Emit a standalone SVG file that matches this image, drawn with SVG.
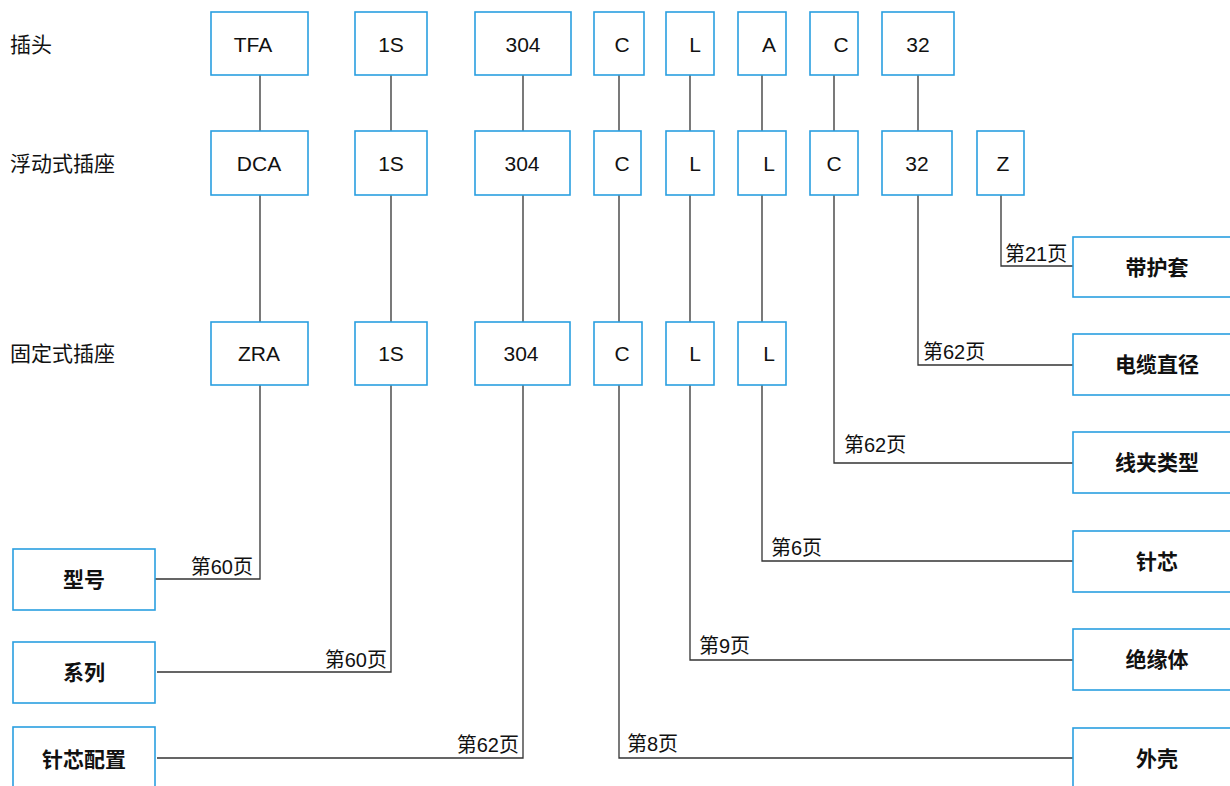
<svg xmlns="http://www.w3.org/2000/svg" width="1230" height="786" viewBox="0 0 1230 786">
<style>
text{font-family:"Liberation Sans","Noto Sans CJK SC",sans-serif;fill:#111}
.box{fill:#fff;stroke:#2a9fe0;stroke-width:1.6}
.code{font-size:21px;text-anchor:middle}
.row{font-size:21px}
.pg{font-size:20px}
.end{text-anchor:end}
.name{font-size:21px;font-weight:bold;text-anchor:middle}
.conn{fill:none;stroke:#333;stroke-width:1.3}
</style>
<rect width="1230" height="786" fill="#fff"/>
<g id="row-labels">
<text class="row" x="10" y="52">插头</text>
<text class="row" x="10" y="171">浮动式插座</text>
<text class="row" x="10" y="361">固定式插座</text>
</g>
<g id="connectors">
<path class="conn" d="M260 75V131M391 75V131M523 75V131M619 75V131M690 75V131M762 75V131M834 75V131M918 75V131"/>
<path class="conn" d="M260 195V322M391 195V322M523 195V322M619 195V322M690 195V322M762 195V322"/>
<path class="conn" d="M1001 195V266H1073"/>
<path class="conn" d="M918 195V365H1073"/>
<path class="conn" d="M834 195V463H1073"/>
<path class="conn" d="M762 385V561H1073"/>
<path class="conn" d="M690 385V660H1073"/>
<path class="conn" d="M619 385V758H1073"/>
<path class="conn" d="M260 385V579H155"/>
<path class="conn" d="M391 385V672H157"/>
<path class="conn" d="M523 385V758H157"/>
<text class="pg" x="1005" y="261">第21页</text>
<text class="pg" x="923" y="359">第62页</text>
<text class="pg" x="844" y="452">第62页</text>
<text class="pg" x="771" y="555">第6页</text>
<text class="pg" x="699" y="653">第9页</text>
<text class="pg" x="627" y="751">第8页</text>
<text class="pg end" x="253" y="574">第60页</text>
<text class="pg end" x="387" y="667">第60页</text>
<text class="pg end" x="519" y="752">第62页</text>
</g>
<g id="r1-tfa"><rect class="box" x="211" y="12" width="97" height="63"/><text class="code" x="253" y="52">TFA</text></g>
<g id="r1-1s"><rect class="box" x="355" y="12" width="72" height="63"/><text class="code" x="391" y="52">1S</text></g>
<g id="r1-304"><rect class="box" x="475" y="12" width="96" height="63"/><text class="code" x="523" y="52">304</text></g>
<g id="r1-c"><rect class="box" x="594" y="12" width="50" height="63"/><text class="code" x="622" y="52">C</text></g>
<g id="r1-l"><rect class="box" x="666" y="12" width="48" height="63"/><text class="code" x="695" y="52">L</text></g>
<g id="r1-a"><rect class="box" x="738" y="12" width="48" height="63"/><text class="code" x="769" y="52">A</text></g>
<g id="r1-c2"><rect class="box" x="810" y="12" width="48" height="63"/><text class="code" x="841" y="52">C</text></g>
<g id="r1-32"><rect class="box" x="882" y="12" width="72" height="63"/><text class="code" x="918" y="52">32</text></g>

<g id="r2-dca"><rect class="box" x="211" y="131" width="97" height="64"/><text class="code" x="259" y="171">DCA</text></g>
<g id="r2-1s"><rect class="box" x="355" y="131" width="72" height="64"/><text class="code" x="391" y="171">1S</text></g>
<g id="r2-304"><rect class="box" x="475" y="131" width="95" height="64"/><text class="code" x="522" y="171">304</text></g>
<g id="r2-c"><rect class="box" x="594" y="131" width="47" height="64"/><text class="code" x="622" y="171">C</text></g>
<g id="r2-l"><rect class="box" x="666" y="131" width="48" height="64"/><text class="code" x="695" y="171">L</text></g>
<g id="r2-l2"><rect class="box" x="738" y="131" width="48" height="64"/><text class="code" x="769" y="171">L</text></g>
<g id="r2-c2"><rect class="box" x="810" y="131" width="48" height="64"/><text class="code" x="834" y="171">C</text></g>
<g id="r2-32"><rect class="box" x="882" y="131" width="70" height="64"/><text class="code" x="917" y="171">32</text></g>
<g id="r2-z"><rect class="box" x="977" y="131" width="47" height="64"/><text class="code" x="1003" y="171">Z</text></g>

<g id="r3-zra"><rect class="box" x="211" y="322" width="97" height="63"/><text class="code" x="259" y="361">ZRA</text></g>
<g id="r3-1s"><rect class="box" x="355" y="322" width="72" height="63"/><text class="code" x="391" y="361">1S</text></g>
<g id="r3-304"><rect class="box" x="475" y="322" width="95" height="63"/><text class="code" x="521" y="361">304</text></g>
<g id="r3-c"><rect class="box" x="594" y="322" width="48" height="63"/><text class="code" x="622" y="361">C</text></g>
<g id="r3-l"><rect class="box" x="666" y="322" width="48" height="63"/><text class="code" x="695" y="361">L</text></g>
<g id="r3-l2"><rect class="box" x="738" y="322" width="48" height="63"/><text class="code" x="769" y="361">L</text></g>

<g id="n-daihutao"><rect class="box" x="1073" y="237" width="170" height="60"/><text class="name" x="1157" y="275">带护套</text></g>
<g id="n-dianlan"><rect class="box" x="1073" y="334" width="170" height="61"/><text class="name" x="1157" y="372">电缆直径</text></g>
<g id="n-xianjia"><rect class="box" x="1073" y="432" width="170" height="61"/><text class="name" x="1157" y="470">线夹类型</text></g>
<g id="n-zhenxin"><rect class="box" x="1073" y="531" width="170" height="61"/><text class="name" x="1157" y="569">针芯</text></g>
<g id="n-jueyuan"><rect class="box" x="1073" y="629" width="170" height="61"/><text class="name" x="1157" y="667">绝缘体</text></g>
<g id="n-waike"><rect class="box" x="1073" y="728" width="170" height="70"/><text class="name" x="1157" y="766">外壳</text></g>
<g id="n-xinghao"><rect class="box" x="13" y="549" width="142" height="61"/><text class="name" x="84" y="587">型号</text></g>
<g id="n-xilie"><rect class="box" x="13" y="642" width="142" height="61"/><text class="name" x="84" y="680">系列</text></g>
<g id="n-peizhi"><rect class="box" x="13" y="727" width="142" height="70"/><text class="name" x="84" y="767">针芯配置</text></g>
</svg>
